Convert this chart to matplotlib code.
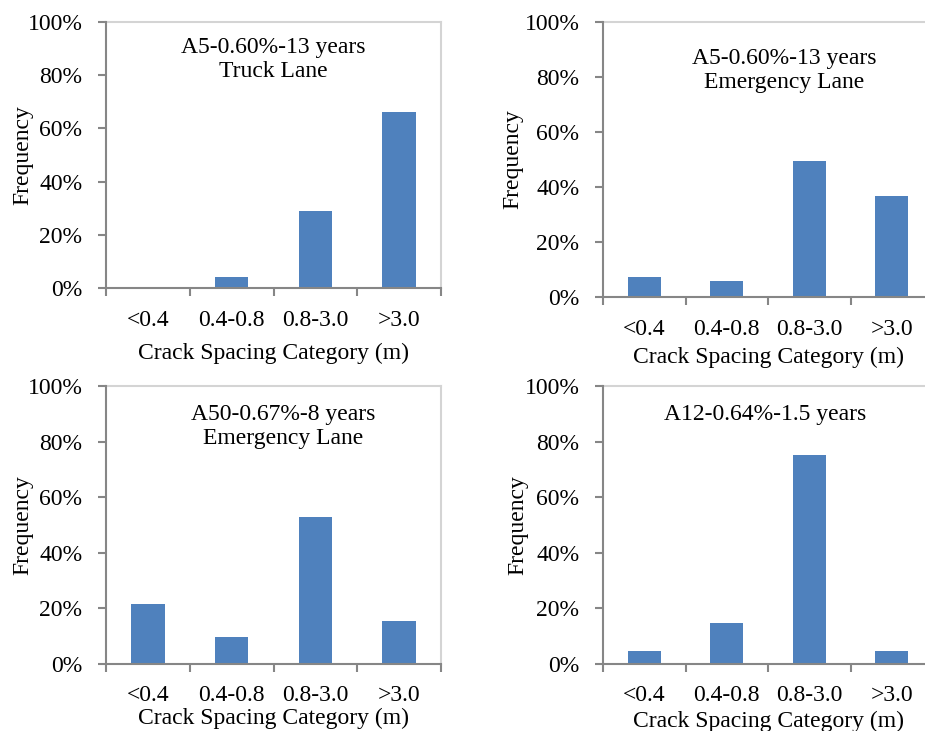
import matplotlib.pyplot as plt
from matplotlib.ticker import FixedLocator, PercentFormatter

plt.rcParams['font.family'] = ['Liberation Serif', 'DejaVu Serif']

categories = ['<0.4', '0.4-0.8', '0.8-3.0', '>3.0']

truck_a5 = [0.0, 4.3, 29.0, 66.0]
emerg_a5 = [7.4, 5.8, 49.5, 36.6]
emerg_a50 = [21.5, 9.6, 52.9, 15.5]
a12 = [4.8, 14.8, 75.0, 4.8]

titles = ['A5-0.60%-13 years\nTruck Lane',
          'A5-0.60%-13 years\nEmergency Lane',
          'A50-0.67%-8 years\nEmergency Lane',
          'A12-0.64%-1.5 years']

bar_color = '#4f81bd'
axis_color = '#868686'
frame_color = '#d4d4d4'
fs = 17

# axes boxes in figure fraction: left, bottom, width, height
boxes = [[0.1146, 0.6060, 0.3622, 0.3639],
         [0.6519, 0.5937, 0.3568, 0.3762],
         [0.1146, 0.0917, 0.3622, 0.3803],
         [0.6519, 0.0917, 0.3568, 0.3803]]
# text position (x, y) in axes fraction
text_pos = [(0.50, 0.86), (0.55, 0.825), (0.53, 0.853), (0.49, 0.896)]
ylab_x = [33, 523, 33, 528]
xlab_pad = [9, 5, 1, 3]

fig = plt.figure(figsize=(9.25, 7.31), dpi=100)
series = [truck_a5, emerg_a5, emerg_a50, a12]

for i, vals in enumerate(series):
    ax = fig.add_axes(boxes[i])
    x = range(len(categories))
    ax.bar(x, vals, width=0.4, color=bar_color, zorder=3)
    ax.set_xlim(-0.5, 3.5)
    ax.set_ylim(0, 100)
    ax.set_yticks([0, 20, 40, 60, 80, 100])
    ax.yaxis.set_major_formatter(PercentFormatter(decimals=0))
    ax.set_xticks(list(x))
    ax.set_xticklabels(categories)
    ax.xaxis.set_minor_locator(FixedLocator([-0.5, 0.5, 1.5, 2.5, 3.5]))
    ax.tick_params(axis='x', which='major', length=0, pad=15.5, labelsize=fs)
    ax.tick_params(axis='x', which='minor', length=6, width=1.5, color=axis_color, direction='out')
    ax.tick_params(axis='y', length=6, width=1.5, color=axis_color, pad=11, labelsize=fs)
    for s in ['left', 'bottom']:
        ax.spines[s].set_color(axis_color)
        ax.spines[s].set_linewidth(1.5)
        ax.spines[s].set_zorder(4)
    for s in ['top', 'right']:
        ax.spines[s].set_color(frame_color)
        ax.spines[s].set_linewidth(1.5)
    ax.set_xlabel('Crack Spacing Category (m)', fontsize=fs, labelpad=xlab_pad[i])
    ax.set_ylabel('Frequency', fontsize=fs)
    ax.yaxis.set_label_coords((ylab_x[i] - boxes[i][0] * 925) / (boxes[i][2] * 925), 0.5)
    ax.text(text_pos[i][0], text_pos[i][1], titles[i], transform=ax.transAxes,
            ha='center', va='center', fontsize=fs, linespacing=1.2)

fig.savefig('out.png', dpi=100)
